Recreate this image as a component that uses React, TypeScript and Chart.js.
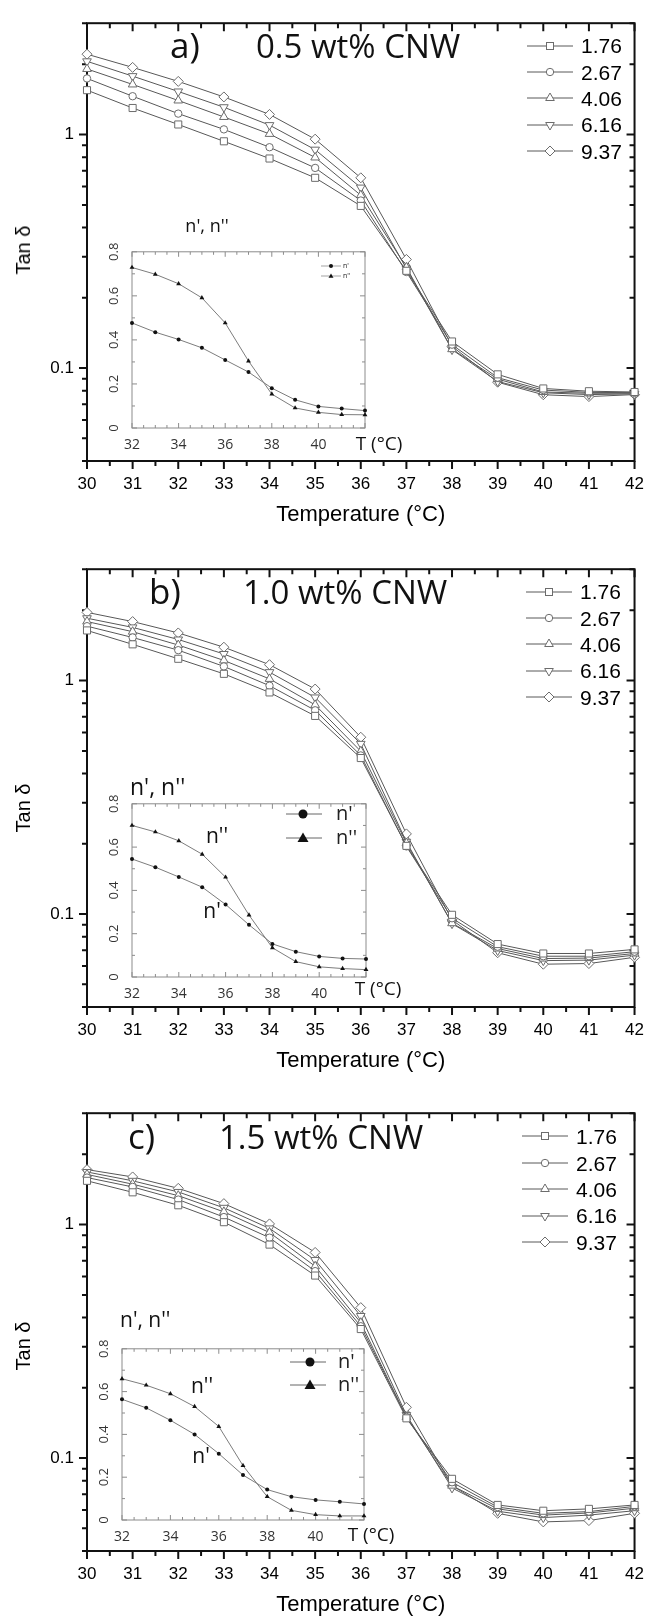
import React, { useEffect, useRef } from 'react';
import { Chart, registerables } from 'chart.js';

Chart.register(...registerables);

// ---------------- data ----------------
const temperatures = [30, 31, 32, 33, 34, 35, 36, 37, 38, 39, 40, 41, 42];
const frequencyLabels = ['1.76', '2.67', '4.06', '6.16', '9.37'];

// panel a : 0.5 wt% CNW
const tanA_176 = [1.55, 1.30, 1.105, 0.936, 0.79, 0.653, 0.495, 0.261, 0.130, 0.094, 0.0818, 0.0796, 0.079];
const tanA_267 = [1.74, 1.46, 1.23, 1.053, 0.883, 0.72, 0.522, 0.258, 0.126, 0.091, 0.0805, 0.0787, 0.0785];
const tanA_406 = [1.91, 1.64, 1.40, 1.19, 1.007, 0.798, 0.55, 0.27, 0.1205, 0.0897, 0.079, 0.078, 0.078];
const tanA_616 = [2.06, 1.78, 1.53, 1.31, 1.098, 0.862, 0.593, 0.267, 0.120, 0.0876, 0.0784, 0.077, 0.0775];
const tanA_937 = [2.21, 1.94, 1.69, 1.45, 1.22, 0.956, 0.653, 0.292, 0.124, 0.087, 0.0769, 0.0755, 0.077];

// panel b : 1.0 wt% CNW
const tanB_176 = [1.64, 1.43, 1.24, 1.069, 0.89, 0.706, 0.466, 0.196, 0.0993, 0.0744, 0.0678, 0.0678, 0.0706];
const tanB_267 = [1.71, 1.53, 1.35, 1.15, 0.951, 0.746, 0.478, 0.195, 0.096, 0.0725, 0.066, 0.066, 0.069];
const tanB_406 = [1.79, 1.62, 1.42, 1.22, 1.017, 0.787, 0.498, 0.2015, 0.0914, 0.0712, 0.0645, 0.0648, 0.0678];
const tanB_616 = [1.85, 1.69, 1.50, 1.30, 1.087, 0.847, 0.536, 0.204, 0.091, 0.0698, 0.0632, 0.0635, 0.0667];
const tanB_937 = [1.96, 1.79, 1.60, 1.39, 1.17, 0.92, 0.572, 0.2205, 0.0944, 0.0683, 0.061, 0.0614, 0.0653];

// panel c : 1.5 wt% CNW
const tanC_176 = [1.54, 1.375, 1.21, 1.024, 0.821, 0.605, 0.357, 0.148, 0.0815, 0.063, 0.0595, 0.0606, 0.063];
const tanC_267 = [1.59, 1.45, 1.28, 1.077, 0.879, 0.632, 0.367, 0.150, 0.0788, 0.0617, 0.058, 0.059, 0.0621];
const tanC_406 = [1.64, 1.49, 1.33, 1.134, 0.925, 0.663, 0.38, 0.150, 0.0762, 0.0606, 0.057, 0.0582, 0.061];
const tanC_616 = [1.68, 1.54, 1.38, 1.18, 0.963, 0.705, 0.406, 0.153, 0.0745, 0.0592, 0.0556, 0.057, 0.0595];
const tanC_937 = [1.72, 1.60, 1.43, 1.23, 1.007, 0.76, 0.441, 0.165, 0.0762, 0.058, 0.0533, 0.054, 0.058];

// insets : n', n''
const insetTemperatures = [32, 33, 34, 35, 36, 37, 38, 39, 40, 41, 42];
const nPrimeA = [0.477, 0.435, 0.402, 0.364, 0.309, 0.254, 0.181, 0.128, 0.098, 0.088, 0.079];
const nDoubleA = [0.729, 0.698, 0.655, 0.591, 0.477, 0.304, 0.154, 0.091, 0.071, 0.061, 0.060];
const nPrimeB = [0.545, 0.507, 0.462, 0.415, 0.335, 0.241, 0.153, 0.117, 0.095, 0.086, 0.083];
const nDoubleB = [0.70, 0.67, 0.629, 0.567, 0.461, 0.286, 0.135, 0.071, 0.047, 0.039, 0.034];
const nPrimeC = [0.564, 0.524, 0.466, 0.40, 0.31, 0.21, 0.142, 0.109, 0.094, 0.085, 0.075];
const nDoubleC = [0.66, 0.63, 0.59, 0.53, 0.437, 0.254, 0.109, 0.045, 0.025, 0.019, 0.019];

// tick labels
const mainXTickLabels = temperatures;
const mainYTickLabels = [0.1, 1];
const insetXTickLabels = [32, 34, 36, 38, 40];
const insetYTickLabels = [0, 0.2, 0.4, 0.6, 0.8];

// ---------------- tick marks (axes decoration) ----------------
const mainXMarks: [number, boolean][] = [];
for (let v = 30; v <= 42.001; v += 0.5) mainXMarks.push([v, Number.isInteger(v)]);
const mainYMarks: [number, boolean][] = [];
[0.01, 0.1, 1].forEach((d) => {
  for (let m = 1; m <= 9; m++) {
    const v = +(m * d).toPrecision(3);
    if (v >= 0.04 && v <= 3) mainYMarks.push([v, m === 1]);
  }
});
const insetXMarks: [number, boolean][] = [];
for (let v = 32; v <= 42.001; v += 0.5) insetXMarks.push([v, v % 2 === 0]);
const insetYMarks: [number, boolean][] = [];
for (let k = 0; k <= 8; k++) insetYMarks.push([k / 10, k % 2 === 0]);

// ---------------- styles ----------------
const SANS = '"Liberation Sans", Arial, sans-serif';
const OPEN = '"Open Sans", sans-serif';
const LINE_COLOR = '#585858';
const MARK_COLOR = '#6c6c6c';

const markerKinds = ['square', 'circle', 'up', 'down', 'diamond'];
const chartMarkers = [
  { style: 'rect', r: 5, rot: 0 },
  { style: 'circle', r: 3.7, rot: 0 },
  { style: 'triangle', r: 5, rot: 0 },
  { style: 'triangle', r: 5, rot: 180 },
  { style: 'rectRot', r: 5, rot: 0 },
];

function makeFramePlugin(cfg: any) {
  return {
    id: 'frameTicks',
    beforeDraw(chart: any) {
      if (!cfg.fill) return;
      const { ctx, chartArea: c } = chart;
      ctx.save();
      ctx.fillStyle = cfg.fill;
      ctx.fillRect(c.left, c.top, c.right - c.left, c.bottom - c.top);
      ctx.restore();
    },
    beforeDatasetsDraw(chart: any) {
      const { ctx, chartArea: c, scales } = chart;
      const xs = scales.x;
      const ys = scales.y;
      ctx.save();
      ctx.strokeStyle = cfg.color;
      ctx.lineWidth = cfg.tickWidth;
      ctx.beginPath();
      for (const [v, major] of cfg.xMarks) {
        const p = xs.getPixelForValue(v);
        const l = major ? cfg.major : cfg.minor;
        ctx.moveTo(p, c.bottom);
        ctx.lineTo(p, c.bottom + cfg.dir.bottom * l);
        ctx.moveTo(p, c.top);
        ctx.lineTo(p, c.top + cfg.dir.top * l);
      }
      for (const [v, major] of cfg.yMarks) {
        const p = ys.getPixelForValue(v);
        const l = major ? cfg.major : cfg.minor;
        ctx.moveTo(c.left, p);
        ctx.lineTo(c.left + cfg.dir.left * l, p);
        ctx.moveTo(c.right, p);
        ctx.lineTo(c.right + cfg.dir.right * l, p);
      }
      ctx.stroke();
      ctx.lineWidth = cfg.frameWidth;
      ctx.strokeRect(c.left, c.top, c.right - c.left, c.bottom - c.top);
      ctx.restore();
    },
  };
}

// ---------------- text helper ----------------
function Txt(props: {
  x: number; base: number; size: number; font?: string; align?: 'left' | 'center';
  weight?: number; color?: string; children: React.ReactNode;
}) {
  const font = props.font || OPEN;
  const asc = font === OPEN ? 0.888 : 0.8465;
  return (
    <div
      style={{
        position: 'absolute',
        left: props.x,
        top: props.base - asc * props.size,
        fontFamily: font,
        fontSize: props.size,
        lineHeight: `${props.size}px`,
        fontWeight: props.weight || 400,
        color: props.color || '#111',
        whiteSpace: 'pre',
        transform: props.align === 'center' ? 'translateX(-50%)' : undefined,
      }}
    >
      {props.children}
    </div>
  );
}

function SvgMarker({ kind, cx, cy, fill, stroke, s = 1 }: any) {
  const common = { fill, stroke, strokeWidth: 1 };
  if (kind === 'square') return <rect x={cx - 3.5 * s} y={cy - 3.5 * s} width={7 * s} height={7 * s} {...common} />;
  if (kind === 'circle') return <circle cx={cx} cy={cy} r={3.7 * s} {...common} />;
  if (kind === 'up')
    return <polygon points={`${cx},${cy - 5 * s} ${cx + 4.33 * s},${cy + 2.5 * s} ${cx - 4.33 * s},${cy + 2.5 * s}`} {...common} />;
  if (kind === 'down')
    return <polygon points={`${cx},${cy + 5 * s} ${cx + 4.33 * s},${cy - 2.5 * s} ${cx - 4.33 * s},${cy - 2.5 * s}`} {...common} />;
  return <polygon points={`${cx - 5 * s},${cy} ${cx},${cy - 5 * s} ${cx + 5 * s},${cy} ${cx},${cy + 5 * s}`} {...common} />;
}

// ---------------- main chart ----------------
const AREA_TOP = 15;
const AREA_H = 446;
const AREA_LEFT = 87;
const AREA_RIGHT = 645;

function MainChart({ series, height }: { series: number[][]; height: number }) {
  const ref = useRef<HTMLCanvasElement>(null);
  useEffect(() => {
    const titleLine = 22 * 1.2;
    const titleCenter = AREA_TOP + AREA_H + 54;
    const chart = new Chart(ref.current as HTMLCanvasElement, {
      type: 'line',
      data: {
        datasets: series.map((vals, i) => ({
          label: frequencyLabels[i],
          data: temperatures.map((t, j) => ({ x: t, y: vals[j] })),
          borderColor: LINE_COLOR,
          borderWidth: 1,
          pointStyle: chartMarkers[i].style as any,
          pointRotation: chartMarkers[i].rot,
          pointRadius: chartMarkers[i].r,
          pointBorderColor: MARK_COLOR,
          pointBackgroundColor: '#ffffff',
          pointBorderWidth: 1,
          tension: 0,
          clip: false as any,
        })),
      },
      options: {
        responsive: false,
        animation: false,
        events: [],
        layout: { padding: { top: AREA_TOP, right: 657 - AREA_RIGHT, left: 0, bottom: 0 } },
        plugins: { legend: { display: false }, tooltip: { enabled: false } },
        scales: {
          x: {
            type: 'linear',
            min: 30,
            max: 42,
            afterFit: (s: any) => { s.height = height - AREA_TOP - AREA_H; },
            afterBuildTicks: (s: any) => { s.ticks = mainXTickLabels.map((v) => ({ value: v })); },
            grid: { display: false, drawTicks: false },
            border: { display: false },
            ticks: { font: { family: SANS, size: 17 }, color: '#000', padding: 13, maxRotation: 0 },
            title: {
              display: true,
              text: 'Temperature (°C)',
              font: { family: SANS, size: 22 },
              color: '#000',
              padding: { top: 0, bottom: height - titleLine / 2 - titleCenter },
            },
          },
          y: {
            type: 'logarithmic',
            min: 0.04,
            max: 3,
            afterFit: (s: any) => { s.width = AREA_LEFT; },
            afterBuildTicks: (s: any) => { s.ticks = mainYTickLabels.map((v) => ({ value: v })); },
            grid: { display: false, drawTicks: false },
            border: { display: false },
            ticks: { font: { family: SANS, size: 17 }, color: '#000', padding: 13, callback: (v: any) => String(v) },
          },
        },
      } as any,
      plugins: [
        makeFramePlugin({
          color: '#111', tickWidth: 2, frameWidth: 2, major: 8, minor: 5,
          xMarks: mainXMarks, yMarks: mainYMarks,
          dir: { bottom: 1, top: 1, left: -1, right: -1 },
        }),
      ],
    });
    return () => chart.destroy();
  }, []);
  return (
    <canvas ref={ref} width={657} height={height}
      style={{ position: 'absolute', left: 0, top: 0, width: 657, height }} />
  );
}

// ---------------- inset chart ----------------
function InsetChart({ rect, nP, nPP }: any) {
  const ref = useRef<HTMLCanvasElement>(null);
  const W = rect.right - rect.left;
  const H = rect.bottom - rect.top;
  const cw = W + 50;
  const ch = H + 40;
  useEffect(() => {
    const chart = new Chart(ref.current as HTMLCanvasElement, {
      type: 'line',
      data: {
        datasets: [
          {
            label: "n'",
            data: insetTemperatures.map((t, i) => ({ x: t, y: nP[i] })),
            borderColor: '#7d7d7d', borderWidth: 1,
            pointStyle: 'circle', pointRadius: 2, pointBackgroundColor: '#111', pointBorderColor: '#111', pointBorderWidth: 0,
            tension: 0, clip: false as any,
          },
          {
            label: "n''",
            data: insetTemperatures.map((t, i) => ({ x: t, y: nPP[i] })),
            borderColor: '#7d7d7d', borderWidth: 1,
            pointStyle: 'triangle', pointRadius: 2.8, pointBackgroundColor: '#111', pointBorderColor: '#111', pointBorderWidth: 0,
            tension: 0, clip: false as any,
          },
        ],
      },
      options: {
        responsive: false,
        animation: false,
        events: [],
        layout: { padding: { top: 10, right: 10, left: 0, bottom: 0 } },
        plugins: { legend: { display: false }, tooltip: { enabled: false } },
        scales: {
          x: {
            type: 'linear', min: 32, max: 42,
            afterFit: (s: any) => { s.height = 30; },
            afterBuildTicks: (s: any) => { s.ticks = insetXTickLabels.map((v) => ({ value: v })); },
            grid: { display: false, drawTicks: false },
            border: { display: false },
            ticks: { font: { family: OPEN, size: 14 }, color: '#333', padding: 9, maxRotation: 0 },
          },
          y: {
            type: 'linear', min: 0, max: 0.8,
            afterFit: (s: any) => { s.width = 40; },
            afterBuildTicks: (s: any) => { s.ticks = insetYTickLabels.map((v) => ({ value: v })); },
            grid: { display: false, drawTicks: false },
            border: { display: false },
            ticks: {
              font: { family: OPEN, size: 13 }, color: '#333', padding: 9,
              minRotation: 90, maxRotation: 90, crossAlign: 'center',
              callback: (v: any) => (v === 0 ? '0' : Number(v).toFixed(1)),
            },
          },
        },
      } as any,
      plugins: [
        makeFramePlugin({
          color: '#8c8c8c', tickWidth: 1, frameWidth: 1, major: 5, minor: 3, fill: '#ffffff',
          xMarks: insetXMarks, yMarks: insetYMarks,
          dir: { bottom: -1, top: 1, left: 1, right: -1 },
        }),
      ],
    });
    return () => chart.destroy();
  }, []);
  return (
    <canvas ref={ref} width={cw} height={ch}
      style={{ position: 'absolute', left: rect.left - 40, top: rect.top - 10, width: cw, height: ch }} />
  );
}

// ---------------- panel ----------------
function Panel(p: any) {
  const legendRows = frequencyLabels.map((lab, i) => {
    const y = p.legendY + i * 26.4;
    const lx0 = p.legendTextX - 55;
    return (
      <React.Fragment key={lab}>
        <svg style={{ position: 'absolute', left: lx0, top: y - 8 }} width={50} height={16}>
          <line x1={1} y1={8} x2={47} y2={8} stroke={LINE_COLOR} strokeWidth={1} />
          <SvgMarker kind={markerKinds[i]} cx={24} cy={8} fill="#fff" stroke={MARK_COLOR} />
        </svg>
        <Txt x={p.legendTextX} base={y + 7.5} size={21} font={SANS} color="#000">{lab}</Txt>
      </React.Fragment>
    );
  });

  const il = p.insetLegend;
  const insetLegendRows = ["n'", "n''"].map((lab, i) => {
    const y = il.rows[i];
    const w = il.lineX[1] - il.lineX[0];
    return (
      <React.Fragment key={lab}>
        <svg style={{ position: 'absolute', left: il.lineX[0], top: y - 8 }} width={w + 2} height={16}>
          <line x1={0} y1={8} x2={w} y2={8} stroke="#666" strokeWidth={il.s < 0.6 ? 0.6 : 1} />
          {i === 0 ? (
            <circle cx={il.markerX - il.lineX[0]} cy={8} r={4.5 * il.s} fill="#111" />
          ) : (
            <polygon
              points={`${il.markerX - il.lineX[0]},${8 - 5.5 * il.s} ${il.markerX - il.lineX[0] + 5.5 * il.s},${8 + 4 * il.s} ${il.markerX - il.lineX[0] - 5.5 * il.s},${8 + 4 * il.s}`}
              fill="#111"
            />
          )}
        </svg>
        <Txt x={il.textX} base={y + 0.33 * il.size} size={il.size} color="#222">{lab}</Txt>
      </React.Fragment>
    );
  });

  return (
    <div style={{ position: 'absolute', left: 0, top: p.top, width: 657, height: p.height }}>
      <MainChart series={p.series} height={p.height} />
      <InsetChart rect={p.inset} nP={p.nP} nPP={p.nPP} />
      <Txt x={p.letterX} base={p.headBase} size={35}>{p.letter}</Txt>
      <Txt x={p.titleX} base={p.headBase} size={33}>{p.title}</Txt>
      {legendRows}
      <div
        style={{
          position: 'absolute', left: 23, top: p.tanY, fontFamily: SANS, fontSize: 20, lineHeight: '20px',
          color: '#000', whiteSpace: 'pre', transform: 'translate(-50%, -50%) rotate(-90deg)',
        }}
      >
        Tan δ
      </div>
      <Txt x={p.insetTitle.x} base={p.insetTitle.cy + 0.36 * p.insetTitle.size} size={p.insetTitle.size}
        align={p.insetTitle.align}>{"n', n''"}</Txt>
      {insetLegendRows}
      {p.annotations.map((a: any) => (
        <Txt key={a.text} x={a.cx} base={a.cy + 0.36 * 21} size={21} align="center">{a.text}</Txt>
      ))}
      <Txt x={p.tLabel.cx} base={p.tLabel.cy + 0.27 * 19} size={19} align="center">T (°C)</Txt>
    </div>
  );
}

const panels = [
  {
    key: 'a', top: 0, height: 546, letter: 'a)', title: '0.5 wt% CNW', letterX: 170, titleX: 256, headBase: 58,
    series: [tanA_176, tanA_267, tanA_406, tanA_616, tanA_937], legendY: 45.5, legendTextX: 581, tanY: 250,
    inset: { left: 132, right: 365, top: 245, bottom: 428 }, nP: nPrimeA, nPP: nDoubleA,
    insetTitle: { x: 207, cy: 226, size: 18, align: 'center' },
    insetLegend: { rows: [266, 276], lineX: [321, 341], markerX: 331, textX: 343, size: 7, s: 0.45 },
    annotations: [], tLabel: { cx: 379, cy: 446 },
  },
  {
    key: 'b', top: 546, height: 544, letter: 'b)', title: '1.0 wt% CNW', letterX: 149, titleX: 243, headBase: 58,
    series: [tanB_176, tanB_267, tanB_406, tanB_616, tanB_937], legendY: 45.5, legendTextX: 580, tanY: 262,
    inset: { left: 132, right: 366, top: 251, bottom: 431 }, nP: nPrimeB, nPP: nDoubleB,
    insetTitle: { x: 130, cy: 241, size: 23, align: 'left' },
    insetLegend: { rows: [268, 292], lineX: [286, 322], markerX: 303, textX: 336, size: 20, s: 1 },
    annotations: [{ text: "n''", cx: 217, cy: 290 }, { text: "n'", cx: 212, cy: 365 }],
    tLabel: { cx: 378, cy: 445 },
  },
  {
    key: 'c', top: 1090, height: 528, letter: 'c)', title: '1.5 wt% CNW', letterX: 128, titleX: 219, headBase: 59,
    series: [tanC_176, tanC_267, tanC_406, tanC_616, tanC_937], legendY: 46.4, legendTextX: 576, tanY: 256,
    inset: { left: 122, right: 364, top: 252, bottom: 430 }, nP: nPrimeC, nPP: nDoubleC,
    insetTitle: { x: 120, cy: 230, size: 21, align: 'left' },
    insetLegend: { rows: [272, 295], lineX: [290, 326], markerX: 310, textX: 338, size: 20, s: 1 },
    annotations: [{ text: "n''", cx: 202, cy: 296 }, { text: "n'", cx: 201, cy: 366 }],
    tLabel: { cx: 371, cy: 447 },
  },
];

export default function App() {
  return (
    <div style={{ position: 'absolute', left: 0, top: 0, width: 657, height: 1618, overflow: 'hidden', background: '#fff' }}>
      {panels.map((p) => (
        <Panel {...p} key={p.key} />
      ))}
    </div>
  );
}
